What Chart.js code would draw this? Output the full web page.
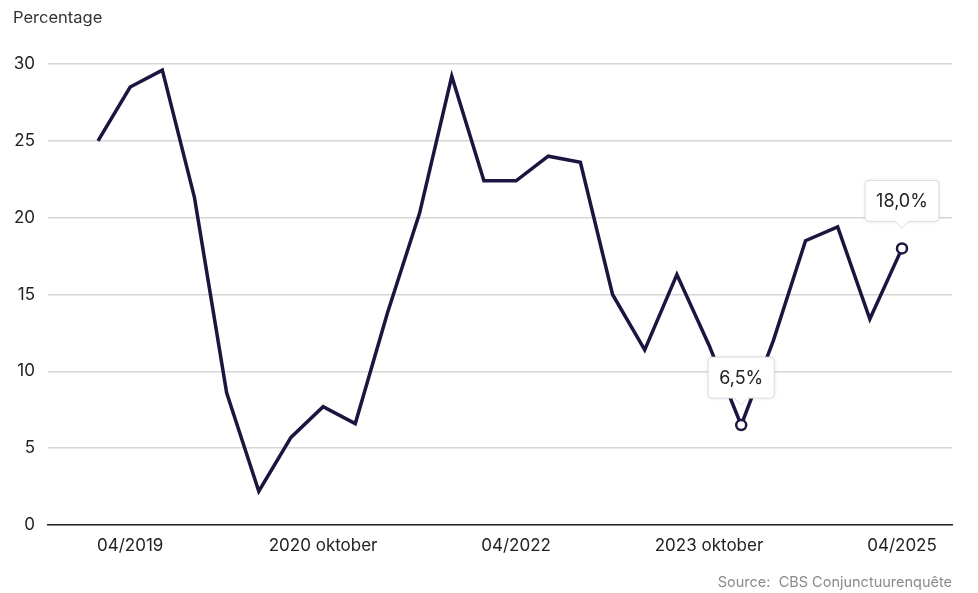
<!DOCTYPE html>
<html>
<head>
<meta charset="utf-8">
<script src="https://cdn.jsdelivr.net/npm/chart.js@4"></script>
<style>
  html, body { margin: 0; padding: 0; background: #fff; }
  #wrap { width: 978px; height: 593px; position: relative; }
</style>
</head>
<body>
<div id="wrap"><canvas id="chart" width="978" height="593"></canvas></div>
<script>
// quarterly, 01/2019 .. 04/2025
const categories = [
  "01/2019", "04/2019", "07/2019", "10/2019",
  "01/2020", "04/2020", "07/2020", "2020 oktober",
  "01/2021", "04/2021", "07/2021", "10/2021",
  "01/2022", "04/2022", "07/2022", "10/2022",
  "01/2023", "04/2023", "07/2023", "2023 oktober",
  "01/2024", "04/2024", "07/2024", "10/2024",
  "01/2025", "04/2025"
];
const values = [
  25.0, 28.5, 29.6, 21.3,
  8.6, 2.2, 5.7, 7.7,
  6.6, 13.8, 20.3, 29.2,
  22.4, 22.4, 24.0, 23.6,
  15.0, 11.4, 16.3, 11.7,
  6.5, 12.0, 18.5, 19.4,
  13.4, 18.0
];
const tickIndices = [1, 7, 13, 19, 25];
const labelled = [20, 25];

const lineColor = "#1b1640";
const font = "Inter, 'Open Sans', sans-serif";

const fmt = (v) => v.toFixed(1).replace(".", ",") + "%";

const calloutPlugin = {
  id: "callouts",
  afterDatasetsDraw(chart) {
    const ctx = chart.ctx;
    const meta = chart.getDatasetMeta(0);
    labelled.forEach((i) => {
      const pt = meta.data[i];
      const text = fmt(values[i]);
      ctx.save();
      ctx.font = "18px " + font;
      const w = ctx.measureText(text).width + 22;
      const h = 41;
      const tip = pt.y - 20;
      const bottom = tip - 7;
      const left = pt.x - w / 2;
      const top = bottom - h;
      ctx.shadowColor = "rgba(0,0,0,0.12)";
      ctx.shadowBlur = 4;
      ctx.fillStyle = "#fff";
      ctx.strokeStyle = "#dcdcdc";
      ctx.lineWidth = 1;
      ctx.beginPath();
      ctx.roundRect(left, top, w, h, 4);
      ctx.fill();
      ctx.shadowColor = "transparent";
      ctx.stroke();
      // caret
      ctx.beginPath();
      ctx.moveTo(pt.x - 7, bottom - 0.5);
      ctx.lineTo(pt.x, tip);
      ctx.lineTo(pt.x + 7, bottom - 0.5);
      ctx.fill();
      ctx.stroke();
      ctx.fillRect(pt.x - 7, bottom - 2, 14, 2.2);
      ctx.fillStyle = "#222";
      ctx.textAlign = "center";
      ctx.textBaseline = "middle";
      ctx.fillText(text, pt.x, top + h / 2 + 1);
      ctx.restore();
    });
  }
};

const textPlugin = {
  id: "texts",
  afterDraw(chart) {
    const ctx = chart.ctx;
    ctx.save();
    ctx.font = "16.5px " + font;
    ctx.fillStyle = "#333";
    ctx.textBaseline = "middle";
    ctx.textAlign = "left";
    ctx.fillText("Percentage", 13, 18);
    ctx.font = "14.5px " + font;
    ctx.fillStyle = "#8a8a8a";
    ctx.textAlign = "right";
    ctx.fillText("Source:  CBS Conjunctuurenquête", 952, 583);
    ctx.restore();
  }
};

new Chart(document.getElementById("chart"), {
  type: "line",
  data: {
    datasets: [{
      data: values.map((v, i) => ({ x: i, y: v })),
      borderColor: lineColor,
      borderWidth: 3.5,
      borderJoinStyle: "miter",
      tension: 0,
      pointRadius: values.map((v, i) => (labelled.includes(i) ? 5 : 0)),
      pointBackgroundColor: "#fff",
      pointBorderColor: lineColor,
      pointBorderWidth: 2.5
    }]
  },
  options: {
    responsive: false,
    animation: false,
    devicePixelRatio: 1,
    layout: { padding: { top: 64, right: 26, bottom: 38, left: 0 } },
    plugins: { legend: { display: false }, tooltip: { enabled: false } },
    scales: {
      x: {
        type: "linear",
        min: -1.555,
        max: 26.555,
        afterBuildTicks: (s) => { s.ticks = tickIndices.map((v) => ({ value: v })); },
        afterFit: (s) => { s.height = 30; },
        ticks: {
          autoSkip: false,
          maxRotation: 0,
          padding: 11,
          color: "#222",
          font: { family: font, size: 17 },
          callback: (v) => categories[v]
        },
        grid: { display: false, drawTicks: false },
        border: { display: true, color: "#222", width: 1.5 }
      },
      y: {
        min: 0,
        max: 30,
        afterFit: (s) => { s.width = 48; },
        ticks: {
          stepSize: 5,
          padding: 13,
          color: "#222",
          font: { family: font, size: 17 }
        },
        grid: { color: "#d6d6d6", lineWidth: 1.5, drawTicks: false },
        border: { display: false }
      }
    }
  },
  plugins: [calloutPlugin, textPlugin]
});
</script>
</body>
</html>
